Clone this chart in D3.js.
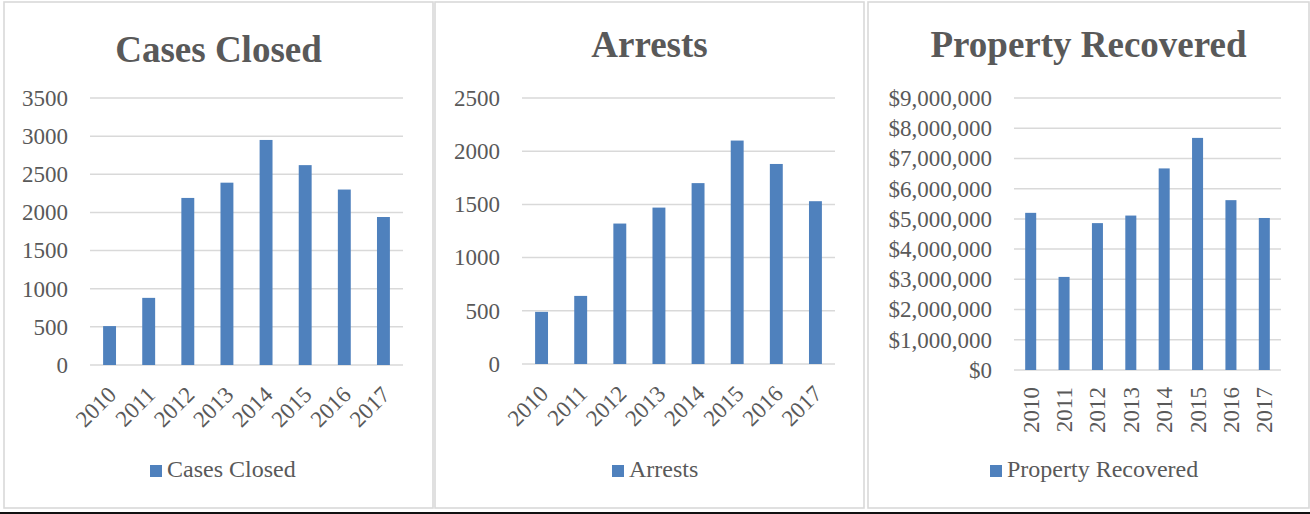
<!DOCTYPE html>
<html>
<head>
<meta charset="utf-8">
<script src="https://cdn.jsdelivr.net/npm/d3@7"></script>
<style>
  body { margin: 0; background: #fff; }
  text { font-family: "Liberation Serif", "Times New Roman", serif; }
</style>
</head>
<body>
<svg id="chart"></svg>
<script>
const years = ["2010", "2011", "2012", "2013", "2014", "2015", "2016", "2017"];
const casesClosed = [510, 880, 2190, 2390, 2950, 2620, 2300, 1940];
const arrests = [490, 640, 1320, 1470, 1700, 2100, 1880, 1530];
const propertyRecovered = [5200000, 3080000, 4860000, 5110000, 6670000, 7680000, 5620000, 5030000];
const casesTicks = [0, 500, 1000, 1500, 2000, 2500, 3000, 3500];
const arrestTicks = [0, 500, 1000, 1500, 2000, 2500];
const propertyTicks = [0, 1000000, 2000000, 3000000, 4000000, 5000000, 6000000, 7000000, 8000000, 9000000];

const barColor = "#4f81bd";
const textColor = "#595959";
const gridColor = "#d9d9d9";

const svg = d3.select("#chart")
  .attr("width", 1310)
  .attr("height", 514);

const panels = [
  { title: "Cases Closed", values: casesClosed, ticks: casesTicks, fmt: d => String(d),
    box: [4, 2, 433, 508], plot: [90, 98, 403, 365], titleY: 62, rot: -45, legendX: 150 },
  { title: "Arrests", values: arrests, ticks: arrestTicks, fmt: d => String(d),
    box: [435, 2, 864, 508], plot: [522, 98, 835, 364], titleY: 57, rot: -45, legendX: 612 },
  { title: "Property Recovered", values: propertyRecovered, ticks: propertyTicks, fmt: d => "$" + d3.format(",")(d),
    box: [868, 2, 1309, 508], plot: [1014, 98, 1281, 370], titleY: 57, rot: -90, legendX: 990 }
];

panels.forEach(p => {
  const [bx0, by0, bx1, by1] = p.box;
  const [px0, py0, px1, py1] = p.plot;
  const g = svg.append("g");

  g.append("rect")
    .attr("x", bx0).attr("y", by0)
    .attr("width", bx1 - bx0).attr("height", by1 - by0)
    .attr("fill", "#fff")
    .attr("stroke", gridColor)
    .attr("stroke-width", 1.6);

  g.append("text")
    .attr("x", (bx0 + bx1) / 2)
    .attr("y", p.titleY)
    .attr("text-anchor", "middle")
    .attr("font-size", "37px")
    .attr("font-weight", "bold")
    .attr("fill", textColor)
    .text(p.title);

  const x = d3.scaleBand()
    .domain(years)
    .range([px0, px1])
    .paddingInner(0.67)
    .paddingOuter(0.335);

  const y = d3.scaleLinear()
    .domain([0, d3.max(p.ticks)])
    .range([py1, py0]);

  // gridlines
  g.selectAll(".grid")
    .data(p.ticks)
    .enter()
    .append("line")
    .attr("x1", px0).attr("x2", px1)
    .attr("y1", d => y(d)).attr("y2", d => y(d))
    .attr("stroke", gridColor)
    .attr("stroke-width", 1.5);

  // y axis labels
  const yAxis = g.append("g")
    .attr("transform", `translate(${px0},0)`)
    .call(d3.axisLeft(y).tickValues(p.ticks).tickFormat(p.fmt).tickSize(0).tickPadding(22));
  yAxis.select(".domain").remove();
  yAxis.selectAll("text")
    .attr("font-family", "Liberation Serif, Times New Roman, serif")
    .attr("font-size", "23px")
    .attr("fill", textColor);

  g.selectAll(".bar")
    .data(p.values)
    .enter()
    .append("rect")
    .attr("x", (d, i) => x(years[i]))
    .attr("y", d => y(d))
    .attr("width", x.bandwidth())
    .attr("height", d => py1 - y(d))
    .attr("fill", barColor);

  // x labels
  g.selectAll(".xlab")
    .data(years)
    .enter()
    .append("text")
    .attr("transform", d => {
      const cx = x(d) + x.bandwidth() / 2;
      return p.rot === -90
        ? `translate(${cx + 8},${py1 + 17}) rotate(-90)`
        : `translate(${cx + 8},${py1 + 31}) rotate(-45)`;
    })
    .attr("text-anchor", "end")
    .attr("font-size", "23px")
    .attr("fill", textColor)
    .text(d => d);

  // legend
  g.append("rect")
    .attr("x", p.legendX).attr("y", 465)
    .attr("width", 12).attr("height", 12)
    .attr("fill", barColor);
  g.append("text")
    .attr("x", p.legendX + 17)
    .attr("y", 477)
    .attr("font-size", "24px")
    .attr("fill", textColor)
    .text(p.title);
});

svg.append("line")
  .attr("x1", 0).attr("x2", 1310)
  .attr("y1", 513).attr("y2", 513)
  .attr("stroke", "#111")
  .attr("stroke-width", 2);
</script>
</body>
</html>
